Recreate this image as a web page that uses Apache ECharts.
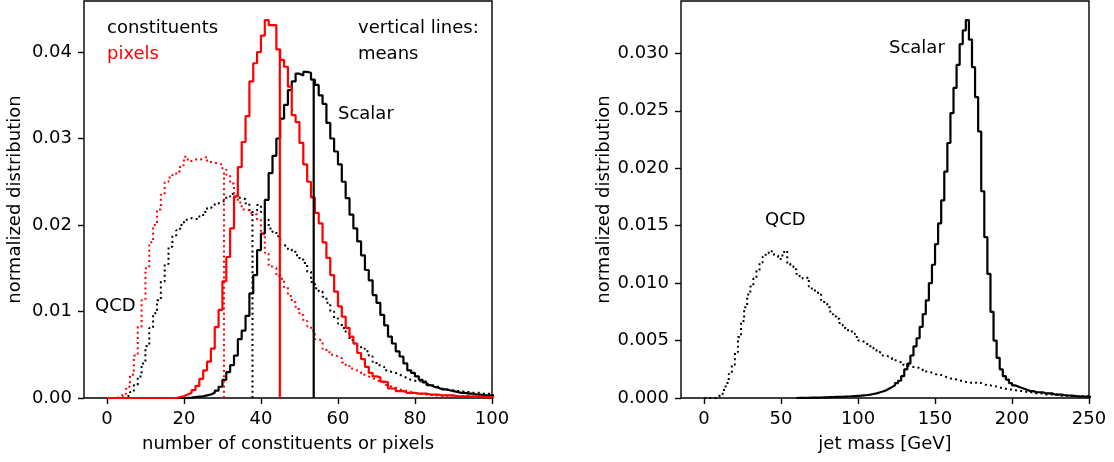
<!DOCTYPE html>
<html><head><meta charset="utf-8">
<script src="https://cdn.jsdelivr.net/npm/echarts@6/dist/echarts.min.js"></script>
<style>html,body{margin:0;padding:0;background:#fff}#c{width:1114px;height:462px}</style>
</head><body><div id="c"></div>
<script>
const FONT = 'DejaVu Sans';
// ---- left panel: number of constituents / pixels (bin width 1, starting at 0)
const countBinStart = 0;
const countBinWidth = 1;
const scalarConst = [0,0,0,0,0,0,0,0,0,0, 0,0,0,0,0,0,0,0,0,0,
  0.00002,0.00005,0.0001,0.00015,0.0002,0.0003,0.0004,0.0006,0.00085,0.0013,
  0.0021,0.0030,0.0038,0.0049,0.0068,0.0078,0.0095,0.0121,0.0142,0.0171,
  0.0190,0.0229,0.0260,0.0280,0.0300,0.0323,0.0339,0.0356,0.0366,0.0375,
  0.0373,0.0377,0.0376,0.0368,0.0362,0.0350,0.0340,0.0318,0.0300,0.0285,
  0.0270,0.0250,0.0231,0.0212,0.0196,0.0181,0.0165,0.0148,0.0136,0.0119,
  0.0110,0.0096,0.0084,0.0071,0.0063,0.0054,0.0048,0.0040,0.0032,0.0029,
  0.0025,0.0021,0.0018,0.0015,0.0013,0.0012,0.0010,0.0010,0.0009,0.0008,
  0.0007,0.0006,0.0006,0.0005,0.0005,0.0004,0.0004,0.0003,0.0003,0.0003,
  0.0003,0.0002,0.0002];
const scalarPix = [0,0,0,0,0,0,0,0,0,0, 0,0,0,0,0,0,0,0,0.0001,0.0002,
  0.0004,0.0006,0.0009,0.0014,0.0022,0.0032,0.0042,0.0057,0.0082,0.0102,
  0.0135,0.0163,0.0196,0.0233,0.0267,0.0296,0.0326,0.0366,0.0387,0.0400,
  0.0419,0.0437,0.0431,0.0431,0.0403,0.0391,0.0383,0.0360,0.0327,0.0319,
  0.0295,0.0270,0.0250,0.0232,0.0214,0.0202,0.0180,0.0162,0.0142,0.0123,
  0.0106,0.0094,0.0081,0.0071,0.0063,0.0052,0.0045,0.0036,0.0029,0.0025,
  0.0024,0.0019,0.0018,0.0011,0.0011,0.0008,0.0008,0.0006,0.0006,0.0006,
  0.0005,0.0005,0.0005,0.0004,0.0004,0.0004,0.0003,0.0003,0.0003,0.0003,
  0.0002,0.0002,0.0002,0.0002,0.00015,0.00015,0.00015,0.0001,0.0001,0.0001,
  0.0001,0.0001,0.0001];
const qcdConst = [0,0,0,0.00002,0.0001,0.0003,0.0007,0.0015,0.0025,0.0040,
  0.0060,0.0081,0.0098,0.0113,0.0135,0.0155,0.0175,0.0188,0.0194,0.0200,
  0.0206,0.0208,0.0207,0.0207,0.0210,0.0215,0.0220,0.0222,0.0225,0.0227,
  0.0229,0.0233,0.0236,0.0232,0.0231,0.0230,0.0225,0.0215,0.0217,0.0223,
  0.0215,0.0206,0.0196,0.0192,0.0187,0.0177,0.0175,0.0172,0.0169,0.0165,
  0.0160,0.0156,0.0146,0.0134,0.0127,0.0123,0.0117,0.0110,0.0100,0.0092,
  0.0086,0.0081,0.0075,0.0067,0.0063,0.0060,0.0057,0.0054,0.0048,0.0042,
  0.0038,0.0036,0.0032,0.0030,0.0029,0.0027,0.0025,0.0023,0.0021,0.0020,
  0.0019,0.0020,0.0019,0.0016,0.0014,0.0013,0.0011,0.0010,0.0009,0.0009,
  0.0008,0.0008,0.0007,0.0007,0.0006,0.0006,0.0006,0.0005,0.0005,0.0005,
  0.0004,0.0004,0.0004];
const qcdPix = [0,0,0.00005,0.0002,0.0005,0.0013,0.0027,0.0049,0.0082,0.0113,
  0.0150,0.0180,0.0200,0.0218,0.0235,0.0250,0.0255,0.0258,0.0262,0.0269,
  0.0279,0.0274,0.0276,0.0275,0.0277,0.0279,0.0273,0.0272,0.0271,0.0270,
  0.0264,0.0258,0.0248,0.0235,0.0226,0.0218,0.0217,0.0214,0.0212,0.0206,
  0.0190,0.0168,0.0152,0.0150,0.0141,0.0138,0.0128,0.0118,0.0111,0.0103,
  0.0096,0.0089,0.0083,0.0078,0.0068,0.0066,0.0057,0.0053,0.0050,0.0048,
  0.0046,0.0041,0.0037,0.0034,0.0032,0.0030,0.0027,0.0025,0.0023,0.0021,
  0.0019,0.0018,0.0015,0.0013,0.0012,0.0010,0.0009,0.0008,0.0007,0.0006,
  0.0005,0.00045,0.0004,0.00035,0.0003,0.0003,0.00025,0.00025,0.00025,0.00025,
  0.0002,0.0002,0.0002,0.0002,0.0002,0.0002,0.00015,0.00015,0.00015,0.00015,
  0.0001,0.0001,0.0001];
// means (vertical lines): [scalarConst, scalarPix, qcdConst, qcdPix]
const countMeans = [53.7, 44.9, 37.8, 30.4];
const countXTicks = [0, 20, 40, 60, 80, 100];
const countYTicks = [0, 0.01, 0.02, 0.03, 0.04];

// ---- right panel: jet mass (bin width 2 GeV)
const massBinWidth = 2;
const qcdMassStart = 0;
const qcdMass = [0,0,0,0,0.0001,0.0003,0.0007,0.0013,0.0021,0.0029,
  0.0040,0.0053,0.0067,0.0079,0.0090,0.0097,0.0104,0.0111,0.0118,0.0123,
  0.0126,0.0128,0.0125,0.0124,0.0121,0.0124,0.0128,0.0117,0.0115,0.0112,
  0.0108,0.0106,0.0104,0.0105,0.0097,0.0094,0.0092,0.0090,0.0085,0.0082,
  0.0079,0.0073,0.0071,0.0069,0.0064,0.0061,0.0059,0.0059,0.0056,0.0053,
  0.0050,0.0049,0.0048,0.0046,0.0044,0.0042,0.0040,0.0039,0.0037,0.0036,
  0.0035,0.0033,0.0032,0.0031,0.0029,0.0028,0.0028,0.0027,0.0027,0.0026,
  0.0025,0.0023,0.0023,0.0022,0.0021,0.0020,0.0020,0.0019,0.0018,0.0017,
  0.0017,0.0016,0.0015,0.0015,0.0014,0.0014,0.0013,0.0013,0.0014,0.0013,
  0.0012,0.0011,0.0011,0.0010,0.0010,0.0009,0.0009,0.0008,0.0008,0.0007,
  0.0007,0.0006,0.0006,0.0006,0.0005,0.0005,0.0005,0.0004,0.0004,0.0004,
  0.0003,0.0003,0.0003,0.0003,0.0003,0.0002,0.0002,0.0002,0.0002,0.0002,
  0.00015,0.00015,0.00015,0.00015,0.00015,0.0001,0.0001,0.0001,0.0001,0.0001];
const scalarMassStart = 60;
const scalarMass = [0.00001,0.00001,0.00002,0.00002,0.00003,0.00003,0.00004,0.00004,0.00005,0.00006,
  0.00007,0.00008,0.00009,0.0001,0.00011,0.00012,0.00013,0.00015,0.00017,0.00019,
  0.0002,0.00023,0.00026,0.0003,0.00035,0.0004,0.00048,0.00056,0.00066,0.0008,
  0.00095,0.0011,0.0013,0.0015,0.0019,0.0025,0.0030,0.0037,0.0045,0.0052,
  0.0062,0.0073,0.0085,0.0100,0.0116,0.0134,0.0152,0.0172,0.0197,0.0222,
  0.0248,0.0270,0.0290,0.0308,0.0320,0.0329,0.0312,0.0288,0.0262,0.0232,
  0.0180,0.0140,0.0108,0.0075,0.0050,0.0035,0.0025,0.0019,0.0016,0.0013,
  0.0011,0.0010,0.0009,0.0008,0.0007,0.0006,0.0006,0.0005,0.0005,0.0005,
  0.0004,0.0004,0.0004,0.0003,0.0003,0.0003,0.00025,0.00022,0.0002,0.00018,
  0.00016,0.00015,0.00013,0.00012,0.00011,0.0001,0.0001];
const massXTicks = [0, 50, 100, 150, 200, 250];
const massYTicks = [0, 0.005, 0.01, 0.015, 0.02, 0.025, 0.03];

function stepData(start, width, vals) {
  const pts = [[start, 0]];
  vals.forEach((v, i) => pts.push([start + i * width, v]));
  const end = start + vals.length * width;
  pts.push([end, vals[vals.length - 1]]);
  pts.push([end, 0]);
  return pts;
}
function meanLine(mean, start, width, vals) {
  const h = vals[Math.floor((mean - start) / width)];
  return [[mean, 0], [mean, h]];
}
const DOT = [2, 3.2];
const LW = 2.2;
function hist(name, data, color, dotted, grid) {
  return { name, type: 'line', xAxisIndex: grid, yAxisIndex: grid, data, step: 'end',
    symbol: 'none', showSymbol: false, animation: false, silent: true,
    lineStyle: { color, width: dotted ? 2 : LW, type: dotted ? DOT : 'solid', cap: 'butt' } };
}
function vline(data, color, dotted) {
  return { type: 'line', xAxisIndex: 0, yAxisIndex: 0, data, symbol: 'none', animation: false, silent: true,
    lineStyle: { color, width: dotted ? 2 : LW, type: dotted ? DOT : 'solid', cap: 'butt' } };
}
const txt = { color: '#000', fontSize: 18, fontFamily: FONT };
function xAxis(grid, min, max, ticks, name) {
  return { type: 'value', gridIndex: grid, min, max, splitLine: { show: false },
    axisLine: { show: false, onZero: false },
    axisTick: { show: true, length: 6, lineStyle: { color: '#000', width: 1.4 }, customValues: ticks },
    axisLabel: Object.assign({ margin: 12, customValues: ticks, formatter: v => String(v) }, txt),
    name, nameLocation: 'middle', nameGap: 37, nameTextStyle: txt };
}
function yAxis(grid, max, ticks, dec) {
  return { type: 'value', gridIndex: grid, min: 0, max, splitLine: { show: false },
    axisLine: { show: false, onZero: false },
    axisTick: { show: true, length: 6, lineStyle: { color: '#000', width: 1.4 }, customValues: ticks },
    axisLabel: Object.assign({ margin: 12, customValues: ticks, formatter: v => v.toFixed(dec) }, txt),
    name: 'normalized distribution', nameLocation: 'middle', nameGap: 60, nameRotate: 90, nameTextStyle: txt };
}
function label(text, x, y, color) {
  return { type: 'text', x, y, silent: true,
    style: { text, fill: color || '#000', fontSize: 18, fontFamily: FONT, align: 'left', verticalAlign: 'middle' } };
}

const chart = echarts.init(document.getElementById('c'), null, { renderer: 'canvas' });
chart.setOption({
  backgroundColor: '#fff',
  animation: false,
  grid: [
    { left: 84, right: 622, top: 1, bottom: 64, show: true, borderColor: '#000', borderWidth: 1.4, backgroundColor: 'transparent' },
    { left: 681, right: 25, top: 1, bottom: 64, show: true, borderColor: '#000', borderWidth: 1.4, backgroundColor: 'transparent' }
  ],
  xAxis: [ xAxis(0, -5.95, 100, countXTicks, 'number of constituents or pixels'),
           xAxis(1, -15, 250, massXTicks, 'jet mass [GeV]') ],
  yAxis: [ yAxis(0, 0.0459, countYTicks, 2), yAxis(1, 0.03456, massYTicks, 3) ],
  series: [
    hist('Scalar constituents', stepData(countBinStart, countBinWidth, scalarConst), '#000', false, 0),
    hist('QCD constituents', stepData(countBinStart, countBinWidth, qcdConst), '#000', true, 0),
    hist('Scalar pixels', stepData(countBinStart, countBinWidth, scalarPix), '#ff0000', false, 0),
    hist('QCD pixels', stepData(countBinStart, countBinWidth, qcdPix), '#ff0000', true, 0),
    vline(meanLine(countMeans[0], countBinStart, countBinWidth, scalarConst), '#000', false),
    vline(meanLine(countMeans[2], countBinStart, countBinWidth, qcdConst), '#000', true),
    vline(meanLine(countMeans[1], countBinStart, countBinWidth, scalarPix), '#ff0000', false),
    vline(meanLine(countMeans[3], countBinStart, countBinWidth, qcdPix), '#ff0000', true),
    hist('QCD mass', stepData(qcdMassStart, massBinWidth, qcdMass), '#000', true, 1),
    hist('Scalar mass', stepData(scalarMassStart, massBinWidth, scalarMass), '#000', false, 1)
  ],
  graphic: [
    label('constituents', 107, 28),
    label('pixels', 107, 54, '#ff0000'),
    label('vertical lines:', 358, 28),
    label('means', 358, 54),
    label('Scalar', 338, 114),
    label('QCD', 95, 306),
    label('Scalar', 889, 48),
    label('QCD', 765, 220)
  ]
});
</script></body></html>
